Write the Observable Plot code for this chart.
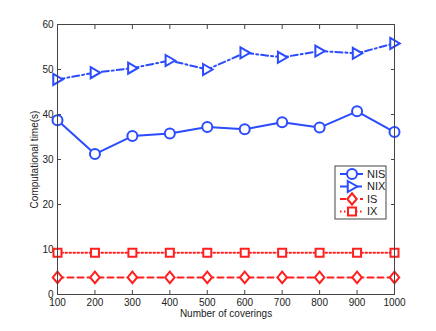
<!DOCTYPE html>
<html><head><meta charset="utf-8">
<script src="https://cdn.jsdelivr.net/npm/d3@7"></script>
<script src="https://cdn.jsdelivr.net/npm/@observablehq/plot@0.6"></script>
<style>
body{margin:0;background:#fff}
#chart{position:relative;width:436px;height:331px}
</style>
</head><body><div id="chart"></div>
<script>
const coverings = [100, 200, 300, 400, 500, 600, 700, 800, 900, 1000];
const nisValues = [38.7, 31.2, 35.2, 35.8, 37.2, 36.7, 38.3, 37.1, 40.7, 36.1];
const nixValues = [47.8, 49.3, 50.3, 52.0, 50.0, 53.7, 52.7, 54.1, 53.6, 55.8];
const isValues  = [3.8, 3.8, 3.8, 3.8, 3.8, 3.8, 3.8, 3.8, 3.8, 3.8];
const ixValues  = [9.3, 9.3, 9.3, 9.3, 9.3, 9.3, 9.3, 9.3, 9.3, 9.3];
const seriesNames = ["NIS", "NIX", "IS", "IX"];
const xTicks = [100, 200, 300, 400, 500, 600, 700, 800, 900, 1000];
const yTicks = [0, 10, 20, 30, 40, 50, 60];
const xLabel = "Number of coverings";
const yLabel = "Computational time(s)";

const blue = "#2b4bff", red = "#ff1f1f";

const mk = pts => ({draw(ctx, size){ const r = Math.sqrt(size/Math.PI); pts.forEach(([a,b],i)=> i? ctx.lineTo(a*r,b*r) : ctx.moveTo(a*r,b*r)); ctx.closePath(); }});
const triRight = mk([[-0.85,-1.1],[1.05,0],[-0.85,1.1]]);
const diamond = mk([[0,-1.15],[0.95,0],[0,1.15],[-0.95,0]]);
const square = mk([[-0.8,-0.8],[0.8,-0.8],[0.8,0.8],[-0.8,0.8]]);

const styles = {
  NIS: {color: blue, dash: null, symbol: "circle", r: 5},
  NIX: {color: blue, dash: "7,3,2,3", symbol: triRight, r: 5},
  IS:  {color: red, dash: "6,4", symbol: diamond, r: 5},
  IX:  {color: red, dash: "1.5,2.5", symbol: square, r: 5}
};
const valuesByName = {NIS: nisValues, NIX: nixValues, IS: isValues, IX: ixValues};

const rows = seriesNames.flatMap(name => coverings.map((c, i) => ({series: name, x: c, y: valuesByName[name][i]})));

const seriesMarks = seriesNames.flatMap(name => {
  const s = styles[name];
  const d = rows.filter(r => r.series === name);
  return [
    Plot.line(d, {x: "x", y: "y", stroke: s.color, strokeWidth: 2, strokeDasharray: s.dash}),
    Plot.dot(d, {x: "x", y: "y", stroke: s.color, fill: "white", strokeWidth: 2, r: s.r, symbol: s.symbol})
  ];
});

const chart = Plot.plot({
  width: 436, height: 331,
  marginLeft: 57, marginRight: 42, marginTop: 24, marginBottom: 37,
  style: {fontFamily: "'Liberation Sans', Arial, sans-serif", fontSize: "10px", color: "#222", background: "#fff"},
  x: {domain: [100, 1000]},
  y: {domain: [0, 60]},
  marks: [
    Plot.axisX({ticks: xTicks, tickSize: -4, tickPadding: 8, stroke: "#444", tickFormat: d => String(d), label: xLabel, labelAnchor: "center", labelArrow: "none", labelOffset: 22}),
    Plot.axisX({anchor: "top", ticks: xTicks, tickSize: -4, stroke: "#444", tickFormat: () => "", label: null}),
    Plot.axisY({ticks: yTicks, tickSize: -4, tickPadding: 8, stroke: "#444", label: yLabel, labelAnchor: "center", labelArrow: "none", labelOffset: 27}),
    Plot.axisY({anchor: "right", ticks: yTicks, tickSize: -4, stroke: "#444", tickFormat: () => "", label: null}),
    ...seriesMarks,
    Plot.frame({stroke: "#444"})
  ]
});
document.getElementById("chart").appendChild(chart);

// legend
const svg = d3.select(chart);
const lg = svg.append("g").attr("transform", "translate(335,166)");
lg.append("rect").attr("width", 51).attr("height", 53).attr("fill", "white").attr("stroke", "#444");
seriesNames.forEach((name, i) => {
  const s = styles[name];
  const y = 8 + i * 12.5;
  lg.append("line").attr("x1", 5).attr("x2", 28).attr("y1", y).attr("y2", y)
    .attr("stroke", s.color).attr("stroke-width", 2).attr("stroke-dasharray", s.dash);
  const sym = typeof s.symbol === "string" ? d3.symbolCircle : s.symbol;
  lg.append("path").attr("d", d3.symbol(sym, Math.PI * s.r * s.r)())
    .attr("transform", `translate(17,${y})`).attr("fill", "white").attr("stroke", s.color).attr("stroke-width", 2);
  lg.append("text").attr("x", 32).attr("y", y).attr("dy", "0.35em").attr("text-anchor", "start")
    .attr("font-size", 11).attr("fill", "#222").text(name);
});
</script>
</body></html>
